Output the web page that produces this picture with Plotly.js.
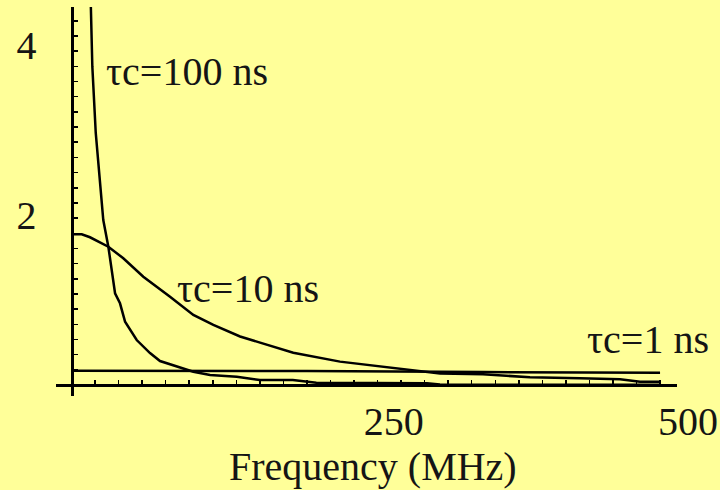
<!DOCTYPE html>
<html>
<head>
<meta charset="utf-8">
<script src="https://cdn.plot.ly/plotly-3.0.1.min.js"></script>
<style>html,body{margin:0;padding:0;background:#FFFF99;}#chart{width:720px;height:490px;}</style>
</head>
<body>
<div id="chart"></div>
<script>
// Frequency (MHz) and spectral density values
const freq100 = [16.4, 17.7, 20.6, 25.7, 27.0, 31.3, 37.0, 41.2, 45.5, 55.4, 66.7, 75.2, 86.5, 95.0, 103.5, 117.7, 140.4, 160, 188, 208, 302, 313, 400, 500];
const val100  = [4.47, 3.745, 2.965, 2.176, 1.94, 1.627, 1.079, 0.961, 0.745, 0.529, 0.376, 0.282, 0.235, 0.196, 0.156, 0.118, 0.098, 0.059, 0.059, 0.027, 0.02, 0.005, 0.004, 0.003];

const freq10 = [0, 8.7, 15.7, 31.3, 44, 61, 83.7, 103.5, 120.5, 143.2, 160.2, 188.4, 228.1, 262.1, 293.3, 313.1, 349.6, 389.5, 432, 466, 483, 500];
const val10  = [1.773, 1.773, 1.738, 1.627, 1.491, 1.274, 1.039, 0.824, 0.706, 0.571, 0.498, 0.379, 0.275, 0.216, 0.165, 0.135, 0.126, 0.091, 0.079, 0.067, 0.039, 0.039];

const freq1 = [0, 200, 350, 500];
const val1  = [0.168, 0.165, 0.152, 0.145];

const curveLabels = ["τc=100 ns", "τc=10 ns", "τc=1 ns"];
const xTickVals = [250, 500];
const xTickText = ["250", "500"];
const yTickVals = [2, 4];
const yTickText = ["2", "4"];
const xTitle = "Frequency (MHz)";

const serifFamily = "Liberation Serif";
const lineStyle = {color: "black", width: 2.5};

const traces = [
  {x: freq100, y: val100, mode: "lines", line: lineStyle, name: curveLabels[0], hoverinfo: "skip"},
  {x: freq10, y: val10, mode: "lines", line: lineStyle, name: curveLabels[1], hoverinfo: "skip"},
  {x: freq1, y: val1, mode: "lines", line: lineStyle, name: curveLabels[2], hoverinfo: "skip"}
];

const annFont = {family: serifFamily, size: 40, color: "#151515"};
const layout = {
  width: 720, height: 490,
  paper_bgcolor: "#FFFF99", plot_bgcolor: "#FFFF99",
  font: {family: serifFamily},
  margin: {l: 56, r: 43, t: 7, b: 94},
  showlegend: false,
  xaxis: {
    range: [-13.17, 514.4],
    anchor: "free", position: 0.0283,
    showline: true, linecolor: "black", linewidth: 3,
    showgrid: false, zeroline: false,
    tickvals: xTickVals, ticktext: xTickText,
    ticks: "", ticklabelshift: 28, ticklabelstandoff: 0,
    tickfont: {family: serifFamily, size: 40, color: "#151515"},
    minor: {dtick: 20, tick0: 0, ticks: "inside", ticklen: 4, tickwidth: 1.5, tickcolor: "black", showgrid: false}
  },
  yaxis: {
    range: [-0.1294, 4.447],
    anchor: "free", position: 0.025,
    showline: true, linecolor: "black", linewidth: 3,
    showgrid: false, zeroline: false,
    tickvals: yTickVals, ticktext: yTickText,
    ticks: "", ticklabelstandoff: 26,
    tickfont: {family: serifFamily, size: 40, color: "#151515"},
    minor: {dtick: 0.1785, tick0: 0, ticks: "inside", ticklen: 4, tickwidth: 1.5, tickcolor: "black", showgrid: false}
  },
  annotations: [
    {x: 98.1, y: 3.69, xref: "x", yref: "y", text: curveLabels[0], showarrow: false, font: annFont, xanchor: "center", yanchor: "middle"},
    {x: 150.2, y: 1.13, xref: "x", yref: "y", text: curveLabels[1], showarrow: false, font: annFont, xanchor: "center", yanchor: "middle"},
    {x: 489.4, y: 0.541, xref: "x", yref: "y", text: curveLabels[2], showarrow: false, font: annFont, xanchor: "center", yanchor: "middle"},
    {x: 0.5101, y: -0.18, xref: "paper", yref: "paper", text: xTitle, showarrow: false, font: annFont, xanchor: "center", yanchor: "middle"}
  ]
};

Plotly.newPlot("chart", traces, layout, {staticPlot: true, displayModeBar: false});
</script>
</body>
</html>
